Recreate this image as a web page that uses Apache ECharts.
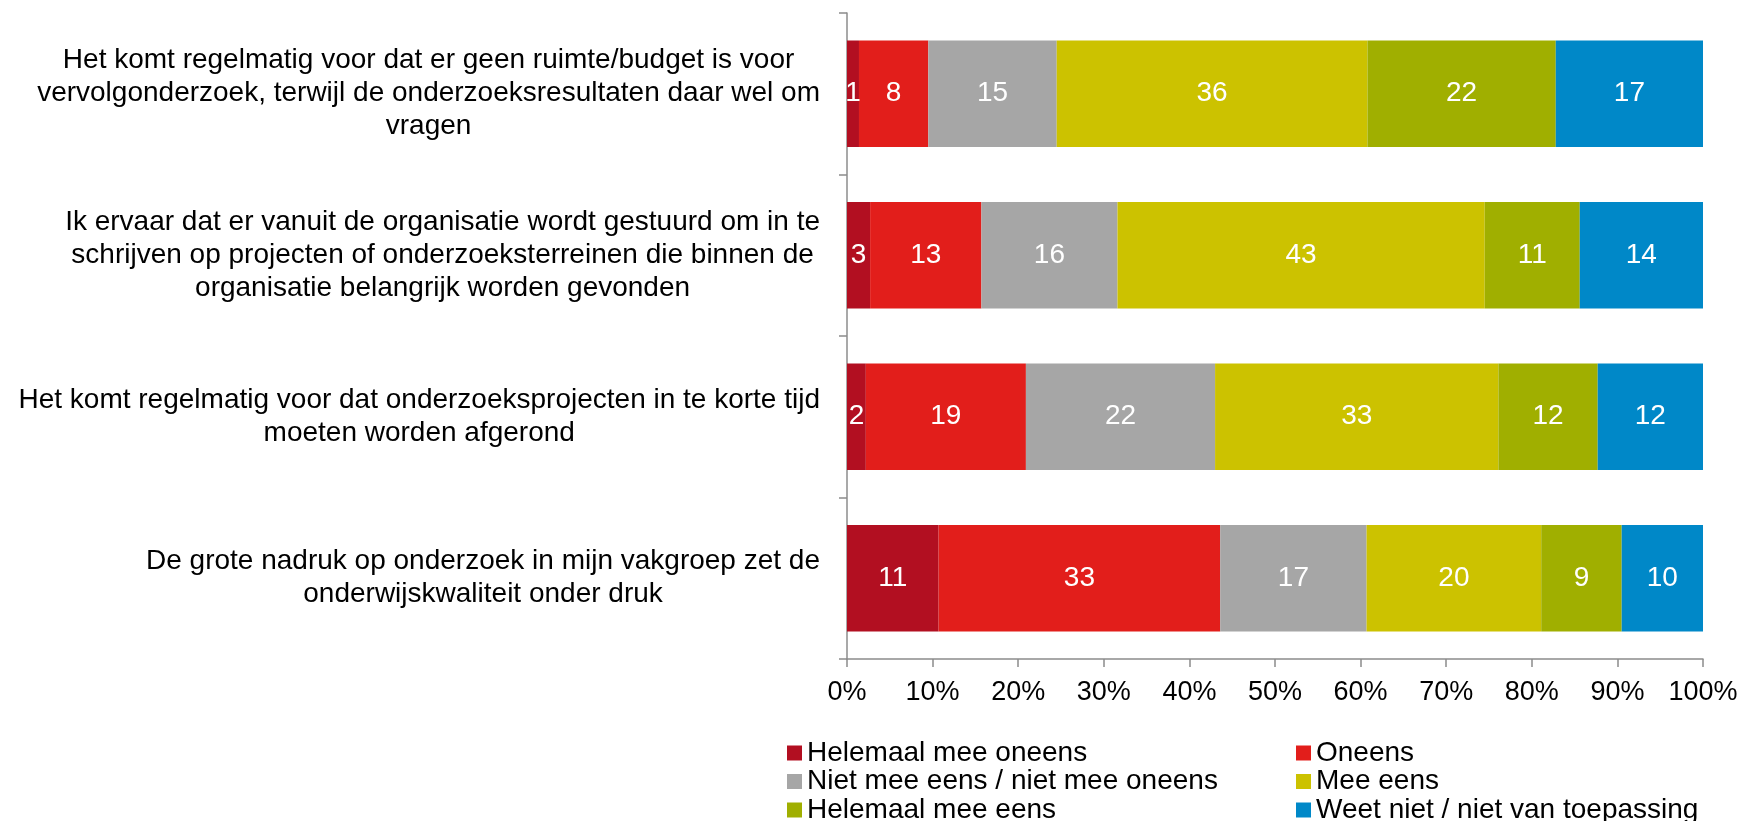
<!DOCTYPE html>
<html lang="nl">
<head>
	<meta charset="UTF-8">
	<script src="https://cdn.jsdelivr.net/npm/echarts@6/dist/echarts.min.js"></script>
	<title>Stellingen onderzoek</title>
	<style>
		html, body { margin: 0; padding: 0; background: #fff; }
	</style>
</head>
<body>
<div id="main" style="width: 1743px;height:821px;"></div>
<script type="text/javascript">
	// stellingen (van boven naar beneden)
	var categories = [
		'Het komt regelmatig voor dat er geen ruimte/budget is voor\nvervolgonderzoek, terwijl de onderzoeksresultaten daar wel om\nvragen',
		'Ik ervaar dat er vanuit de organisatie wordt gestuurd om in te\nschrijven op projecten of onderzoeksterreinen die binnen de\norganisatie belangrijk worden gevonden',
		'Het komt regelmatig voor dat onderzoeksprojecten in te korte tijd\nmoeten worden afgerond',
		'De grote nadruk op onderzoek in mijn vakgroep zet de\nonderwijskwaliteit onder druk'
	];

	// percentages per antwoord
	var helemaalOneens = [1.4, 2.7, 2.2, 10.7];
	var oneens = [8.1, 13.0, 18.7, 32.9];
	var neutraal = [15.0, 15.9, 22.1, 17.1];
	var meeEens = [36.3, 42.9, 33.1, 20.4];
	var helemaalEens = [22.0, 11.1, 11.6, 9.4];
	var weetNiet = [17.2, 14.4, 12.3, 9.5];

	var seriesNames = [
		'Helemaal mee oneens',
		'Oneens',
		'Niet mee eens / niet mee oneens',
		'Mee eens',
		'Helemaal mee eens',
		'Weet niet / niet van toepassing'
	];
	var xTicks = [0, 10, 20, 30, 40, 50, 60, 70, 80, 90, 100];

	var seriesValues = [helemaalOneens, oneens, neutraal, meeEens, helemaalEens, weetNiet];
	var colors = ['#B20F21', '#E21E1B', '#A6A6A6', '#CCC200', '#A0AF00', '#0088C8'];
	var fontFam = '"Liberation Sans", Arial, sans-serif';

	var chart = echarts.init(document.getElementById('main'));

	var series = seriesValues.map(function (vals, i) {
		return {
			name: seriesNames[i],
			type: 'bar',
			stack: 'totaal',
			barWidth: '66%',
			itemStyle: { color: colors[i] },
			label: {
				show: true,
				position: 'inside',
				color: '#fff',
				fontSize: 28,
				fontFamily: fontFam,
				formatter: function (p) { return Math.round(p.value); }
			},
			emphasis: { disabled: true },
			data: vals
		};
	});

	var legendText = { fontSize: 28, color: '#000', fontFamily: fontFam };

	function makeLegend(left, names) {
		return {
			orient: 'vertical',
			left: left,
			top: 739,
			height: 100,
			padding: 0,
			itemWidth: 15,
			itemHeight: 15,
			itemGap: 0.5,
			icon: 'rect',
			selectedMode: false,
			textStyle: legendText,
			data: names
		};
	}

	var option = {
		animation: false,
		color: colors,
		grid: { left: 847, right: 40, top: 13, bottom: 162, containLabel: false },
		legend: [
			makeLegend(787, [seriesNames[0], seriesNames[2], seriesNames[4]]),
			makeLegend(1296, [seriesNames[1], seriesNames[3], seriesNames[5]])
		],
		xAxis: {
			type: 'value',
			min: xTicks[0],
			max: xTicks[xTicks.length - 1],
			interval: xTicks[1] - xTicks[0],
			axisLine: { show: true, lineStyle: { color: '#8C8C8C', width: 1.5 } },
			axisTick: { show: true, length: 8, lineStyle: { color: '#8C8C8C', width: 1.5 } },
			splitLine: { show: false },
			axisLabel: {
				margin: 20,
				color: '#000',
				fontSize: 27,
				fontFamily: fontFam,
				formatter: '{value}%'
			}
		},
		yAxis: {
			type: 'category',
			inverse: true,
			data: categories,
			axisLine: { show: true, lineStyle: { color: '#8C8C8C', width: 1.5 } },
			axisTick: { show: true, length: 8, lineStyle: { color: '#8C8C8C', width: 1.5 } },
			axisLabel: {
				margin: 27,
				align: 'right',
				formatter: function (v) {
					return v.split('\n').map(function (l) { return '{c|' + l + '}'; }).join('\n');
				},
				rich: {
					c: { align: 'center', fontSize: 28, lineHeight: 33, color: '#000', fontFamily: fontFam }
				}
			}
		},
		series: series
	};
	chart.setOption(option);
</script>
</body>
</html>
